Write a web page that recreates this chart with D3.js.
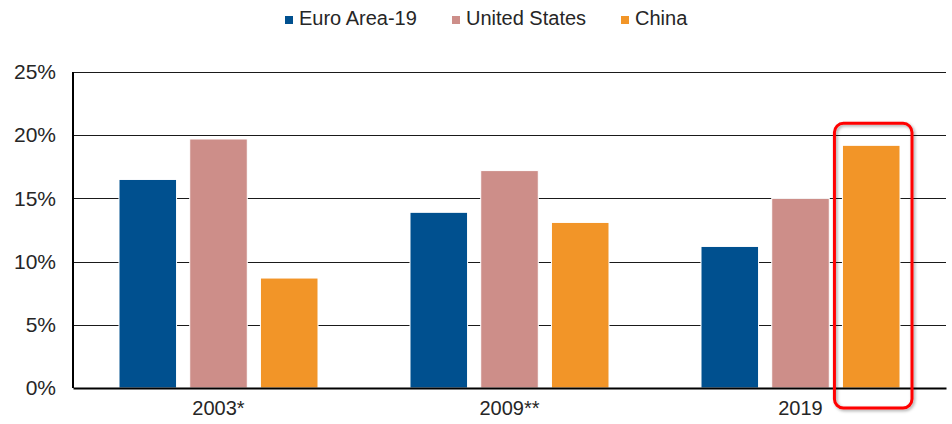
<!DOCTYPE html>
<html>
<head>
<meta charset="utf-8">
<script src="https://cdn.jsdelivr.net/npm/d3@7"></script>
<style>
  body { margin: 0; background: #fff; }
  svg text { font-family: "Liberation Sans", Arial, sans-serif; fill: #262626; }
</style>
</head>
<body>
<div id="chart"></div>
<script>
const years = ['2003*', '2009**', '2019']
const seriesNames = ['Euro Area-19', 'United States', 'China']
const colors = ['#00508F', '#CD8E89', '#F29528']
const euroArea = [16.5, 13.9, 11.2]
const unitedStates = [19.7, 17.2, 15.0]
const china = [8.7, 13.1, 19.2]
const yTicks = [0, 5, 10, 15, 20, 25]

const width = 952, height = 424
const margin = {top: 72, right: 6, bottom: 36, left: 73}
const innerW = width - margin.left - margin.right
const innerH = height - margin.top - margin.bottom

const values = [euroArea, unitedStates, china]
const rows = years.map(function(y, i) {
  return {year: y, vals: values.map(function(s) { return s[i] })}
})

const svg = d3.select('#chart')
  .append('svg')
  .attr('width', width)
  .attr('height', height)

const defs = svg.append('defs')
const shadow = defs.append('filter').attr('id', 'shadow')
  .attr('x', '-20%').attr('y', '-20%').attr('width', '140%').attr('height', '140%')
shadow.append('feDropShadow')
  .attr('dx', 1.5).attr('dy', 1.5).attr('stdDeviation', 1.5)
  .attr('flood-color', '#000').attr('flood-opacity', 0.35)

const g = svg.append('g')
  .attr('transform', 'translate(' + margin.left + ',' + margin.top + ')')

const x0 = d3.scaleBand().domain(years).range([0, innerW])
const x1 = d3.scaleBand().domain(seriesNames)
  .range([46, x0.bandwidth() - 46]).paddingInner(0.186)
const y = d3.scaleLinear().domain([0, 25]).range([innerH, 0])

// gridlines
g.append('g')
  .selectAll('line')
  .data(yTicks.slice(1))
  .enter()
  .append('line')
  .attr('x1', 0)
  .attr('x2', innerW)
  .attr('y1', function(d) { return Math.round(y(d)) + 0.5 })
  .attr('y2', function(d) { return Math.round(y(d)) + 0.5 })
  .attr('stroke', '#1a1a1a')
  .attr('stroke-width', 1.2)

// y axis labels
g.append('g')
  .call(d3.axisLeft(y).tickValues(yTicks).tickSize(0).tickPadding(17)
    .tickFormat(function(d) { return d + '%' }))
  .call(function(a) { a.select('.domain').remove() })
  .selectAll('text')
  .style('font-size', '21px')
  .style('font-family', '"Liberation Sans", Arial, sans-serif')
  .attr('fill', '#262626')

// bars
const groups = g.selectAll('.grp')
  .data(rows)
  .enter()
  .append('g')
  .attr('transform', function(d) { return 'translate(' + x0(d.year) + ',0)' })

groups.selectAll('rect')
  .data(function(d) {
    return d.vals.map(function(v, i) { return {name: seriesNames[i], v: v, c: colors[i]} })
  })
  .enter()
  .append('rect')
  .attr('x', function(d) { return x1(d.name) })
  .attr('width', x1.bandwidth())
  .attr('y', function(d) { return y(d.v) })
  .attr('height', function(d) { return innerH - y(d.v) })
  .attr('fill', function(d) { return d.c })
  .attr('stroke', '#fff')
  .attr('stroke-width', 1)

// axis lines
g.append('line')
  .attr('x1', 0).attr('x2', 0).attr('y1', 0).attr('y2', innerH)
  .attr('stroke', '#000').attr('stroke-width', 2)

const xAxis = g.append('g')
  .attr('transform', 'translate(0,' + innerH + ')')
  .call(d3.axisBottom(x0).tickSize(0).tickPadding(13))
xAxis.select('.domain')
  .attr('stroke', '#000').attr('stroke-width', 2.2)
xAxis.selectAll('text')
  .style('font-size', '20px')
  .style('font-family', '"Liberation Sans", Arial, sans-serif')
  .attr('fill', '#262626')

// highlight box around China 2019
const hx = x0('2019') + x1('China')
g.append('rect')
  .attr('x', hx - 8)
  .attr('y', y(19.2) - 22)
  .attr('width', x1.bandwidth() + 20)
  .attr('height', innerH - y(19.2) + 42)
  .attr('rx', 9)
  .attr('fill', 'none')
  .attr('stroke', '#FF0000')
  .attr('stroke-width', 3)
  .attr('filter', 'url(#shadow)')

// legend
const legendX = [285, 452, 621]
const legend = svg.append('g')
  .selectAll('g')
  .data(seriesNames)
  .enter()
  .append('g')
  .attr('transform', function(d, i) { return 'translate(' + legendX[i] + ',13)' })
legend.append('rect')
  .attr('width', 8).attr('height', 8)
  .attr('y', 3)
  .attr('fill', function(d, i) { return colors[i] })
legend.append('text')
  .attr('x', 14)
  .attr('y', 12)
  .style('font-size', '20px')
  .text(function(d) { return d })
</script>
</body>
</html>
